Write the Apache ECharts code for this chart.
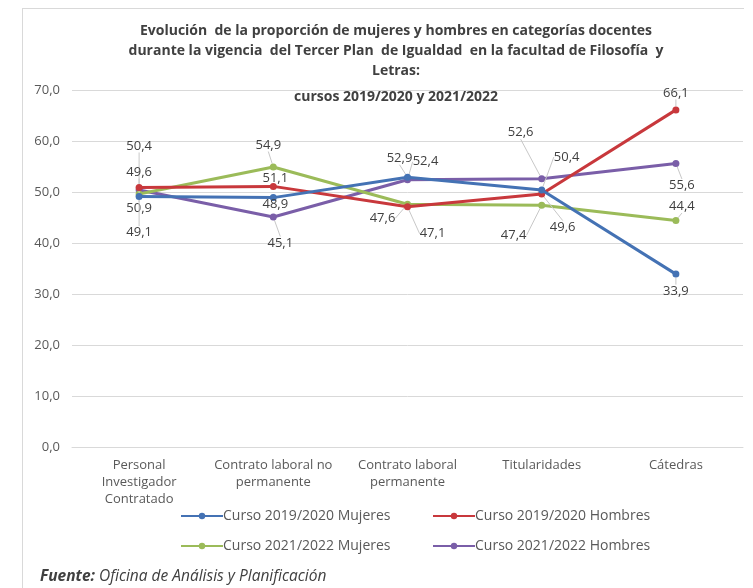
<!DOCTYPE html>
<html>
<head>
<meta charset="utf-8">
<script src="https://cdn.jsdelivr.net/npm/echarts@6/dist/echarts.min.js"></script>
<style>html,body{margin:0;padding:0;background:#fff;}#chart{width:753px;height:588px;}</style>
</head>
<body>
<div id="chart"></div>
<script>
var categories = ['Personal\nInvestigador\nContratado', 'Contrato laboral no\npermanente', 'Contrato laboral\npermanente', 'Titularidades', 'Cátedras'];
var seriesNames = ['Curso 2019/2020 Mujeres', 'Curso 2019/2020 Hombres', 'Curso 2021/2022 Mujeres', 'Curso 2021/2022 Hombres'];
var mujeres1920 = [49.1, 48.9, 52.9, 50.4, 33.9];
var hombres1920 = [50.9, 51.1, 47.1, 49.6, 66.1];
var mujeres2122 = [49.6, 54.9, 47.6, 47.4, 44.4];
var hombres2122 = [50.4, 45.1, 52.4, 52.6, 55.6];
var yTicks = [0, 10, 20, 30, 40, 50, 60, 70];

var colors = ['#4472b4', '#c8383c', '#9bbb59', '#7a5ea8'];
// label displacement from each point (layout only)
var labelShift = [
  [[0, 36], [2, 7], [-8, -19], [25, -33], [0, 17]],
  [[0, 21], [2, -8], [25, 27], [21, 33], [0, -17]],
  [[0, -22], [-5, -22], [-25, 14], [-28, 30], [6, -14]],
  [[0, -44], [7, 26], [18, -18], [-21, -46], [6, 22]]
];

var allData = [mujeres1920, hombres1920, mujeres2122, hombres2122];
var font = 'Open Sans';

var series = allData.map(function (d, i) {
  return {
    name: seriesNames[i],
    type: 'line',
    data: d,
    symbol: 'circle',
    symbolSize: 7,
    lineStyle: { width: 3, color: colors[i] },
    itemStyle: { color: colors[i] },
    z: 10 - i,
    label: {
      show: true,
      position: 'inside',
      color: '#404040',
      fontFamily: font,
      fontSize: 13,
      formatter: function (p) { return p.value.toFixed(1).replace('.', ','); }
    },
    labelLine: { show: true, lineStyle: { color: '#c8c8c8', width: 1 } },
    labelLayout: function (p) {
      var s = labelShift[i][p.dataIndex];
      return { dx: s[0], dy: s[1] };
    }
  };
});

var legends = seriesNames.map(function (n, i) {
  return {
    data: [n],
    left: i % 2 === 0 ? 180 : 432,
    top: i < 2 ? 509 : 539,
    padding: 0,
    itemWidth: 42,
    itemHeight: 8,
    itemGap: 0,
    textStyle: { color: '#595959', fontFamily: font, fontSize: 14, padding: [0, 0, 0, -5] }
  };
});

var titleStyle = { fontFamily: font, fontSize: 14, fontWeight: 'bold', color: '#404040', lineHeight: 20 };

var chart = echarts.init(document.getElementById('chart'));
chart.setOption({
  backgroundColor: '#fff',
  animation: false,
  color: colors,
  title: [{
    text: 'Evolución  de la proporción de mujeres y hombres en categorías docentes\ndurante la vigencia  del Tercer Plan  de Igualdad  en la facultad de Filosofía  y\nLetras:',
    left: 391,
    textAlign: 'center',
    top: 16,
    textStyle: titleStyle
  }, {
    text: 'cursos 2019/2020 y 2021/2022',
    left: 391,
    textAlign: 'center',
    top: 82,
    textStyle: titleStyle
  }],
  legend: legends,
  grid: { left: 72, right: 10, top: 90, bottom: 141, containLabel: false },
  xAxis: {
    type: 'category',
    data: categories,
    boundaryGap: true,
    axisLine: { lineStyle: { color: '#d9d9d9', width: 1 } },
    axisTick: { show: false },
    axisLabel: { interval: 0, color: '#595959', fontFamily: font, fontSize: 13, lineHeight: 17, margin: 10 }
  },
  yAxis: {
    type: 'value',
    min: yTicks[0],
    max: yTicks[yTicks.length - 1],
    interval: 10,
    axisLine: { show: false },
    axisTick: { show: false },
    splitLine: { lineStyle: { color: '#d9d9d9', width: 1 } },
    axisLabel: {
      color: '#595959', fontFamily: font, fontSize: 13, margin: 12,
      formatter: function (v) { return v.toFixed(1).replace('.', ','); }
    }
  },
  series: series,
  graphic: [
    { type: 'line', shape: { x1: 22, y1: 8.5, x2: 744, y2: 8.5 }, style: { stroke: '#d9d9d9', lineWidth: 1 } },
    { type: 'line', shape: { x1: 22.5, y1: 8, x2: 22.5, y2: 588 }, style: { stroke: '#d9d9d9', lineWidth: 1 } },
    {
      type: 'text', left: 40, top: 569,
      style: {
        text: '{b|Fuente:} Oficina de Análisis y Planificación',
        fill: '#404040',
        font: 'italic 15.5px "Open Sans"',
        rich: { b: { fontWeight: 'bold', fontStyle: 'italic', fontFamily: font, fontSize: 15.5, fill: '#404040' } }
      }
    }
  ]
});
</script>
</body>
</html>
